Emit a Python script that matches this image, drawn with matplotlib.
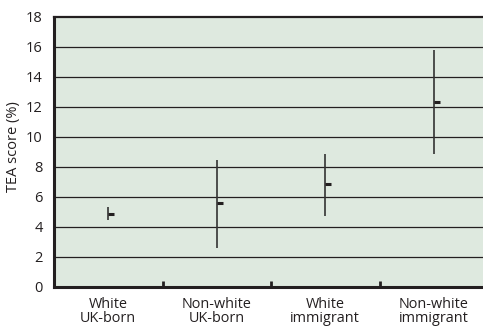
import matplotlib
matplotlib.use("Agg")
import matplotlib.pyplot as plt
from matplotlib.path import Path

# TEA scores by ethnicity / migration status
categories = ["White\nUK-born", "Non-white\nUK-born", "White\nimmigrant", "Non-white\nimmigrant"]
tea_mean = [4.9, 5.6, 6.9, 12.35]
ci_low = [4.5, 2.6, 4.75, 8.9]
ci_high = [5.35, 8.5, 8.9, 15.8]
y_ticks = [0, 2, 4, 6, 8, 10, 12, 14, 16, 18]

ink = "#231f20"
plt.rcParams["font.family"] = ["Open Sans", "DejaVu Sans"]

fig = plt.figure(figsize=(4.83, 3.27), dpi=100)
ax = fig.add_axes([54 / 483, 40 / 327, 434 / 483, 270 / 327])
ax.set_facecolor("#dee9df")

x = list(range(len(categories)))
ax.set_xlim(-0.5, len(categories) - 0.5)
ax.set_ylim(0, 18)

# horizontal grid
for v in y_ticks[1:-1]:
    ax.axhline(v, color=ink, lw=0.9, zorder=1)

# interval whiskers
ax.vlines(x, ci_low, ci_high, color="#333333", lw=1.2, zorder=3)
# mean ticks, drawn to the right of each whisker
right_tick = Path([(0, 0), (1, 0)])
ax.plot(x, tea_mean, ls="none", marker=right_tick, markersize=8.5,
        markeredgewidth=2.2, color=ink, zorder=4)

ax.set_yticks(y_ticks)
ax.set_xticks(x)
ax.set_xticklabels(categories, fontsize=10.4, color=ink, linespacing=0.95)
ax.set_xticks([i + 0.5 for i in x[:-1]], minor=True)
ax.tick_params(axis="x", which="major", length=0, pad=7)
ax.tick_params(axis="x", which="minor", direction="in", length=4, width=2, color=ink)
ax.tick_params(axis="y", length=0, pad=8, labelsize=10.5, labelcolor=ink)

for side in ["left", "bottom"]:
    ax.spines[side].set_linewidth(2.2)
    ax.spines[side].set_color(ink)
ax.spines["top"].set_linewidth(1.6)
ax.spines["top"].set_color(ink)
ax.spines["right"].set_visible(False)

ax.set_ylabel("TEA score (%)", fontsize=10.5, color=ink)
ax.yaxis.set_label_coords(-(54 - 21) / 434, 0.519)

fig.savefig("out.png", dpi=100)
